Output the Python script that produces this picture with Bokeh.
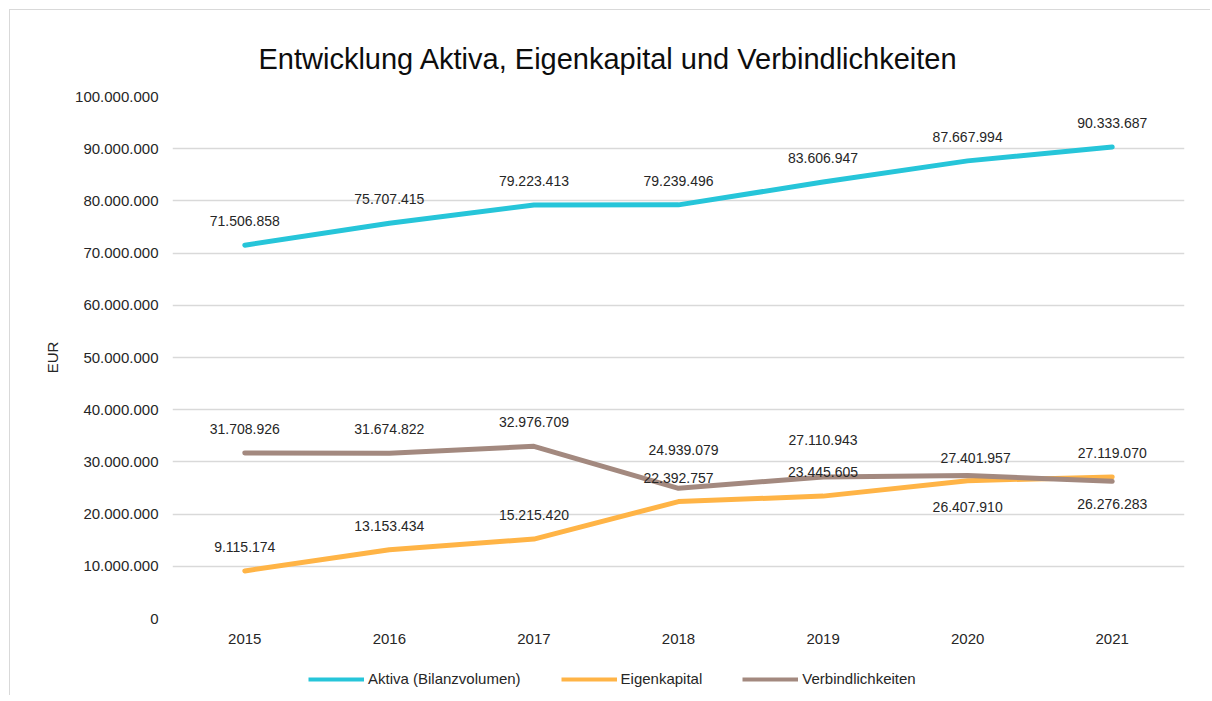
from bokeh.plotting import figure
from bokeh.layouts import column
from bokeh.models import (FactorRange, Range1d, FixedTicker, Legend, LegendItem,
                          ColumnDataSource, Label)
from bokeh.core.properties import value
from bokeh.embed import file_html
from bokeh.resources import INLINE

# ---- data ----
years = ["2015", "2016", "2017", "2018", "2019", "2020", "2021"]
aktiva = [71506858, 75707415, 79223413, 79239496, 83606947, 87667994, 90333687]
eigenkapital = [9115174, 13153434, 15215420, 22392757, 23445605, 26407910, 27119070]
verbindlichkeiten = [31708926, 31674822, 32976709, 24939079, 27110943, 27401957, 26276283]
y_ticks = [0, 10000000, 20000000, 30000000, 40000000, 50000000, 60000000,
           70000000, 80000000, 90000000, 100000000]
series_names = ["Aktiva (Bilanzvolumen)", "Eigenkapital", "Verbindlichkeiten"]
title_text = "Entwicklung Aktiva, Eigenkapital und Verbindlichkeiten"
y_axis_label = "EUR"

# ---- style ----
FONT = "Liberation Sans"
TXT = "#262626"
colors = ["#26C5D9", "#FFB446", "#A3897F"]
# label offsets (pixels) per point: (dx, dy)
offs = [
    [(0, -24)] * 7,
    [(0, -24), (0, -24), (0, -24), (0, -24), (0, -24), (0, 26), (0, -24)],
    [(0, -24), (0, -24), (0, -24), (5, -38), (0, -37), (8, -17), (0, 23)],
]
W = 1200
ML, MR = 162, 26
FRAME_W = W - ML - MR


def de(v):
    return f"{v:,}".replace(",", ".")


def strip(h):
    f = figure(width=W, height=h, x_range=Range1d(0, FRAME_W), y_range=Range1d(0, h),
               output_backend="svg", toolbar_location=None,
               min_border_left=ML, min_border_right=MR, min_border_top=0,
               min_border_bottom=0)
    f.axis.visible = False
    f.grid.visible = False
    f.outline_line_color = None
    f.background_fill_color = "white"
    f.border_fill_color = "white"
    return f


# ---- title strip ----
TITLE_H = 76
pt = strip(TITLE_H)
pt.add_layout(Label(x=86, y=28, text=title_text, text_align="left",
                    text_baseline="alphabetic", text_font=FONT,
                    text_font_size="29px", text_color="#0d0d0d"))

# ---- main plot ----
p = figure(width=W, height=567, x_range=FactorRange(*years, range_padding=0),
           y_range=Range1d(0, 100000000), output_backend="svg", toolbar_location=None,
           min_border_left=ML, min_border_right=MR, min_border_top=10,
           min_border_bottom=35)
p.outline_line_color = None
p.background_fill_color = "white"
p.border_fill_color = "white"

p.xgrid.grid_line_color = None
p.ygrid.grid_line_color = "#d9d9d9"
p.ygrid.grid_line_width = 1.5

for ax in (p.xaxis[0], p.yaxis[0]):
    ax.axis_line_color = None
    ax.major_tick_line_color = None
    ax.minor_tick_line_color = None
    ax.major_tick_out = 0
    ax.major_tick_in = 0
    ax.major_label_text_font = FONT
    ax.major_label_text_font_size = "15px"
    ax.major_label_text_color = TXT

p.xaxis.major_label_standoff = 15
p.yaxis.major_label_standoff = 14
p.yaxis.ticker = FixedTicker(ticks=y_ticks)
p.yaxis.major_label_overrides = {t: de(t) for t in y_ticks}
p.yaxis.axis_label = y_axis_label
p.yaxis.axis_label_text_font = FONT
p.yaxis.axis_label_text_font_size = "15px"
p.yaxis.axis_label_text_font_style = "normal"
p.yaxis.axis_label_text_color = TXT
p.yaxis.axis_label_standoff = 11

for vals, col in zip([aktiva, eigenkapital, verbindlichkeiten], colors):
    p.line(years, vals, line_color=col, line_width=5,
           line_cap="round", line_join="round")

for vals, off in zip([aktiva, eigenkapital, verbindlichkeiten], offs):
    src = ColumnDataSource(dict(x=years, y=vals, t=[de(v) for v in vals],
                                dx=[o[0] for o in off], dy=[o[1] for o in off]))
    p.text("x", "y", text="t", source=src, x_offset="dx", y_offset="dy",
           text_align="center", text_baseline="middle",
           text_font=value(FONT), text_font_size="14px", text_color=TXT)

# ---- legend strip ----
LEG_H = 42
pl = strip(LEG_H)
items = []
for name, col in zip(series_names, colors):
    # invisible proxy renderer (outside the strip's range), only feeds the legend
    r = pl.line(x=[0, 1], y=[-10, -10], line_color=col, line_width=4)
    items.append(LegendItem(label=name, renderers=[r]))
legend = Legend(items=items, orientation="horizontal", location=(136, 8),
                padding=0, margin=0, spacing=40, label_standoff=4,
                glyph_width=56, glyph_height=14, border_line_alpha=0,
                background_fill_alpha=0, label_text_font=FONT,
                label_text_font_size="15px", label_text_color=TXT)
pl.add_layout(legend, "center")

layout = column(pt, p, pl, spacing=0,
                styles={"margin-left": "9px", "margin-top": "9px",
                        "border-left": "1.5px solid #d9d9d9",
                        "border-top": "1.5px solid #d9d9d9"})

open("out.html", "w").write(file_html(layout, INLINE))
